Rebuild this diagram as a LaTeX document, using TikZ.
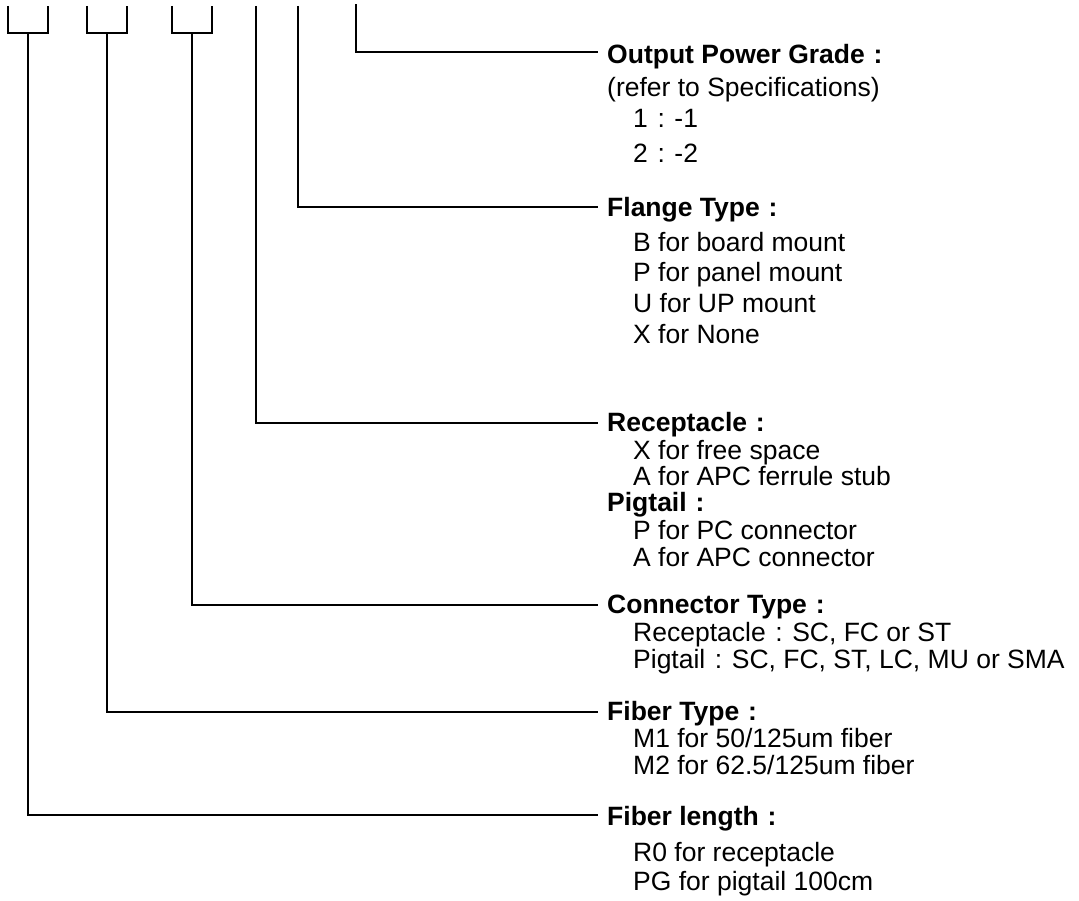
\documentclass[tikz,border=0pt]{standalone}
\usepackage{fontspec}
\setmainfont{Liberation Sans}
\newcommand\fwc{\makebox[1em][c]{:}}
\begin{document}
\begin{tikzpicture}[x=1pt,y=-1pt,
  wire/.style={line width=2pt, draw=black},
  txt/.style={inner sep=0pt, anchor=base west, font=\fontsize{26.5}{30}\selectfont},
  hdr/.style={txt, font=\fontsize{26.5}{30}\selectfont\bfseries}]
\useasboundingbox (0,0) rectangle (1079,901);

% brackets and stems
\coordinate (b1l) at (8.3,6);   \coordinate (b1r) at (48.3,6);  \coordinate (s1) at (28.3,33);
\coordinate (b2l) at (87,6);    \coordinate (b2r) at (127,6);   \coordinate (s2) at (107,33);
\coordinate (b3l) at (172,6);   \coordinate (b3r) at (212,6);   \coordinate (s3) at (192,33);
\coordinate (s4) at (256.3,6);
\coordinate (s5) at (297.7,6);
\coordinate (s6) at (356,4.3);

\draw[wire] (b1l) |- (s1) -| (b1r);
\draw[wire] (b2l) |- (s2) -| (b2r);
\draw[wire] (b3l) |- (s3) -| (b3r);

% line ends
\coordinate (e6) at (597.7,52.3);
\coordinate (e5) at (597.7,206.7);
\coordinate (e4) at (597.7,422.7);
\coordinate (e3) at (597.7,605);
\coordinate (e2) at (597.7,711.7);
\coordinate (e1) at (597.7,815);

\draw[wire] (s6) |- (e6);
\draw[wire] (s5) |- (e5);
\draw[wire] (s4) |- (e4);
\draw[wire] (s3) |- (e3);
\draw[wire] (s2) |- (e2);
\draw[wire] (s1) |- (e1);

% Output power grade
\node[hdr] (h6) at (607,63.3) {Output Power Grade\fwc};
\node[txt] (t6a) at (607,96.7) {(refer to Specifications)};
\node[txt] (t6b) at (633,128) {1\fwc-1};
\node[txt] (t6c) at (633,163) {2\fwc-2};

% Flange type
\node[hdr] (h5) at (607,216.7) {Flange Type\fwc};
\node[txt] (t5a) at (633,251.7) {B for board mount};
\node[txt] (t5b) at (633,281.7) {P for panel mount};
\node[txt] (t5c) at (633,312.5) {U for UP mount};
\node[txt] (t5d) at (633,343) {X for None};

% Receptacle / Pigtail
\node[hdr] (h4) at (607,431.7) {Receptacle\fwc};
\node[txt] (t4a) at (633,459.3) {X for free space};
\node[txt] (t4b) at (633,485) {A for APC ferrule stub};
\node[hdr] (h4p) at (607,511.7) {Pigtail\fwc};
\node[txt] (t4c) at (633,539.3) {P for PC connector};
\node[txt] (t4d) at (633,566.7) {A for APC connector};

% Connector type
\node[hdr] (h3) at (607,613.3) {Connector Type\fwc};
\node[txt] (t3a) at (633,641.7) {Receptacle\fwc SC, FC or ST};
\node[txt] (t3b) at (633,668.3) {Pigtail\fwc SC, FC, ST, LC, MU or SMA};

% Fiber type
\node[hdr] (h2) at (607,720) {Fiber Type\fwc};
\node[txt] (t2a) at (633,747.7) {M1 for 50/125um fiber};
\node[txt] (t2b) at (633,774) {M2 for 62.5/125um fiber};

% Fiber length
\node[hdr] (h1) at (607,825) {Fiber length\fwc};
\node[txt] (t1a) at (633,861.7) {R0 for receptacle};
\node[txt] (t1b) at (633,890) {PG for pigtail 100cm};
\end{tikzpicture}
\end{document}
